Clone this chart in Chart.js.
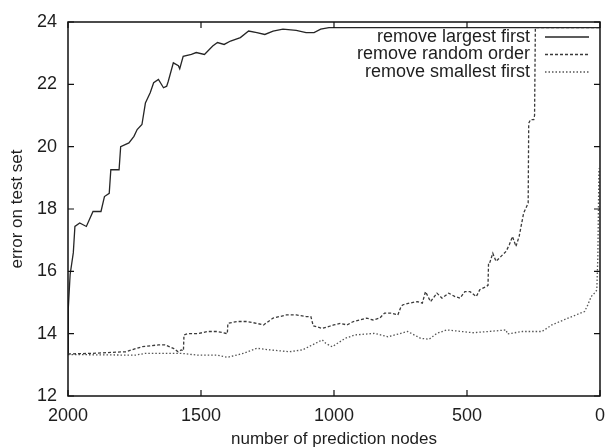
<!DOCTYPE html>
<html>
<head>
<meta charset="utf-8">
<script src="https://cdn.jsdelivr.net/npm/chart.js@4.4.0/dist/chart.umd.min.js"></script>
<style>
  html, body { margin: 0; padding: 0; background: #fff; }
  #wrap { width: 614px; height: 448px; }
</style>
</head>
<body>
<div id="wrap"><canvas id="chart" width="614" height="448"></canvas></div>
<script>
// valores (x = número de nós, y = erro)
const seriesLabels = ["remove largest first", "remove random order", "remove smallest first"];

const largestX = [2000, 1999, 1992, 1980, 1974, 1956, 1931, 1906, 1876, 1863, 1845, 1839, 1808, 1802, 1771,
  1752, 1740, 1722, 1709, 1691, 1678, 1660, 1641, 1629, 1623, 1604, 1585, 1580, 1567, 1536, 1518, 1487,
  1456, 1438, 1413, 1389, 1352, 1321, 1290, 1260, 1229, 1192, 1142, 1105, 1075, 1050, 1019, 1000, 0];
const largestY = [13.4, 14.8, 15.9, 16.6, 17.44, 17.55, 17.44, 17.92, 17.92, 18.4, 18.5, 19.26, 19.26, 20.0, 20.12,
  20.33, 20.55, 20.71, 21.4, 21.73, 22.05, 22.16, 21.89, 21.94, 22.1, 22.69, 22.6, 22.5, 22.9, 22.96, 23.02, 22.96,
  23.23, 23.34, 23.28, 23.39, 23.5, 23.71, 23.66, 23.6, 23.71, 23.77, 23.73, 23.66, 23.66, 23.77, 23.82, 23.82, 23.82];

const randomX = [2000, 1906, 1783, 1722, 1660, 1635, 1604, 1586, 1574, 1566, 1564, 1549, 1512, 1475, 1438, 1401,
  1399, 1364, 1327, 1290, 1265, 1229, 1179, 1142, 1105, 1087, 1078, 1044, 1019, 1001, 976, 951, 927, 902, 878,
  853, 828, 810, 785, 760, 748, 742, 717, 686, 668, 656, 637, 613, 594, 569, 545, 526, 508, 489, 465, 452, 428,
  421, 419, 415, 403, 391, 372, 353, 341, 329, 316, 304, 287, 270, 268, 267, 261, 249, 246, 243, 0];
const randomY = [13.35, 13.37, 13.42, 13.58, 13.64, 13.64, 13.53, 13.42, 13.48, 13.45, 13.96, 14.0, 14.0, 14.07, 14.07, 14.0,
  14.33, 14.39, 14.39, 14.33, 14.28, 14.5, 14.6, 14.6, 14.55, 14.55, 14.25, 14.17, 14.23, 14.28, 14.33, 14.28, 14.39, 14.44, 14.5,
  14.44, 14.5, 14.66, 14.66, 14.6, 14.87, 14.92, 14.98, 15.03, 14.98, 15.35, 15.03, 15.3, 15.14, 15.3, 15.19, 15.14, 15.35, 15.35, 15.19, 15.41, 15.51,
  15.55, 16.26, 16.26, 16.58, 16.32, 16.48, 16.64, 16.85, 17.12, 16.8, 17.12, 17.87, 18.19, 20.7, 20.77, 20.87, 20.87, 21.0, 23.82, 23.82];

const smallestX = [2000, 1746, 1709, 1574, 1512, 1438, 1401, 1339, 1290, 1241, 1167, 1118, 1081, 1044, 1031, 1007,
  958, 921, 847, 797, 723, 674, 643, 613, 576, 477, 391, 353, 348, 292, 218, 181, 120, 58, 46, 33, 21, 12, 8, 4];
const smallestY = [13.33, 13.31, 13.37, 13.37, 13.31, 13.31, 13.24, 13.37, 13.53, 13.48, 13.42, 13.48, 13.64, 13.8, 13.69, 13.58,
  13.85, 13.96, 14.01, 13.9, 14.07, 13.85, 13.82, 14.01, 14.12, 14.03, 14.09, 14.12, 13.99, 14.07, 14.07, 14.28, 14.5, 14.71, 14.92, 15.19, 15.3, 15.4, 16.5, 19.3];

const xTicks = [2000, 1500, 1000, 500, 0];
const yTicks = [12, 14, 16, 18, 20, 22, 24];

const fonte = '"Liberation Sans", Arial, Helvetica, sans-serif';
const corTexto = "#1e1e1e";

function pares(xs, ys) {
  return xs.map((x, i) => ({ x: x, y: ys[i] }));
}

// moldura, ticks para dentro (estilo gnuplot) e legenda à direita
const molduraPlugin = {
  id: "moldura",
  afterDatasetsDraw(chart) {
    const { ctx, chartArea: a, scales } = chart;
    ctx.save();
    ctx.strokeStyle = "#111";
    ctx.lineWidth = 1.5;
    ctx.strokeRect(a.left, a.top, a.right - a.left, a.bottom - a.top);
    ctx.lineWidth = 1.2;
    ctx.beginPath();
    xTicks.forEach((v) => {
      const px = scales.x.getPixelForValue(v);
      ctx.moveTo(px, a.bottom); ctx.lineTo(px, a.bottom - 6);
      ctx.moveTo(px, a.top); ctx.lineTo(px, a.top + 6);
    });
    yTicks.forEach((v) => {
      const py = scales.y.getPixelForValue(v);
      ctx.moveTo(a.left, py); ctx.lineTo(a.left + 6, py);
      ctx.moveTo(a.right, py); ctx.lineTo(a.right - 6, py);
    });
    ctx.stroke();

    // legenda
    ctx.font = "18px " + fonte;
    ctx.textAlign = "right";
    ctx.textBaseline = "middle";
    chart.data.datasets.forEach((ds, i) => {
      const y = 37 + i * 17.5;
      ctx.fillStyle = corTexto;
      ctx.fillText(ds.label, 530, y);
      ctx.strokeStyle = ds.borderColor;
      ctx.lineWidth = ds.borderWidth;
      ctx.setLineDash(ds.borderDash || []);
      ctx.beginPath();
      ctx.moveTo(545, y);
      ctx.lineTo(589, y);
      ctx.stroke();
    });
    ctx.restore();
  },
};

const ctx = document.getElementById("chart").getContext("2d");
new Chart(ctx, {
  type: "line",
  data: {
    datasets: [
      {
        label: seriesLabels[0],
        data: pares(largestX, largestY),
        borderColor: "#262626",
        borderWidth: 1.3,
      },
      {
        label: seriesLabels[1],
        data: pares(randomX, randomY),
        borderColor: "#3a3a3a",
        borderWidth: 1.3,
        borderDash: [3, 2],
      },
      {
        label: seriesLabels[2],
        data: pares(smallestX, smallestY),
        borderColor: "#555",
        borderWidth: 1.3,
        borderDash: [1.5, 2],
      },
    ],
  },
  options: {
    responsive: false,
    animation: false,
    elements: { point: { radius: 0 }, line: { tension: 0 } },
    layout: { padding: { left: 0, top: 22, right: 5, bottom: 0 } },
    plugins: {
      legend: { display: false },
      tooltip: { enabled: false },
    },
    scales: {
      x: {
        type: "linear",
        reverse: true,
        min: 0,
        max: 2000,
        afterFit: (s) => { s.height = 52; },
        afterBuildTicks: (s) => { s.ticks = xTicks.map((v) => ({ value: v })); },
        grid: { display: false, drawTicks: false },
        border: { display: false },
        ticks: {
          padding: 9,
          maxRotation: 0,
          autoSkip: false,
          color: corTexto,
          font: { family: fonte, size: 18 },
          callback: (v) => String(v),
        },
        title: {
          display: true,
          text: "number of prediction nodes",
          color: corTexto,
          font: { family: fonte, size: 17, lineHeight: 1.0 },
          padding: { top: 0, bottom: 0 },
        },
      },
      y: {
        min: 12,
        max: 24,
        afterFit: (s) => { s.width = 68; },
        afterBuildTicks: (s) => { s.ticks = yTicks.map((v) => ({ value: v })); },
        grid: { display: false, drawTicks: false },
        border: { display: false },
        ticks: { padding: 11, color: corTexto, font: { family: fonte, size: 18 }, callback: (v) => String(v) },
        title: {
          display: true,
          text: "error on test set",
          color: corTexto,
          font: { family: fonte, size: 17, lineHeight: 1.0 },
          padding: { top: 9, bottom: 0 },
        },
      },
    },
  },
  plugins: [molduraPlugin],
});
</script>
</body>
</html>
